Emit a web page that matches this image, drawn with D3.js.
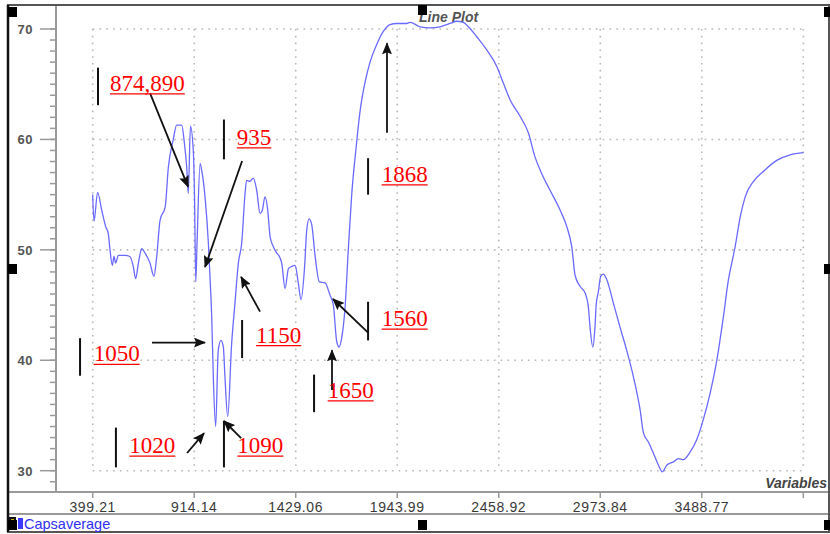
<!DOCTYPE html>
<html>
<head>
<meta charset="utf-8">
<script src="https://cdn.jsdelivr.net/npm/d3@7"></script>
<style>
  html, body { margin: 0; padding: 0; background: #fff; }
  svg { display: block; }
</style>
</head>
<body>
<svg id="chart" width="830" height="534"></svg>
<script>
// ---------- data ----------
const wavenumber = [399,406,424,445,465,478,487,499,507,516,
  529,563,588,605,617,631,648,665,690,710,
  724,741,767,783,808,825,851,864,876,884,
  895,910,916,922,929,944,952,969,986,994,
  1003,1011,1023,1036,1050,1062,1070,1084,1104,1121,
  1138,1155,1172,1180,1197,1214,1231,1248,1260,1273,
  1287,1299,1315,1333,1346,1358,1375,1392,1409,1426,
  1442,1456,1473,1485,1497,1510,1527,1549,1578,1603,
  1620,1637,1649,1662,1679,1696,1713,1735,1755,1781,
  1806,1840,1874,1907,1941,1992,2009,2060,2111,2161,
  2212,2246,2279,2305,2347,2398,2449,2482,2516,2567,
  2609,2643,2677,2719,2770,2804,2829,2846,2871,2897,
  2913,2922,2936,2947,2953,2964,2976,2989,3007,3040,
  3074,3108,3142,3176,3193,3218,3243,3269,3289,3311,
  3345,3370,3395,3430,3463,3496,3531,3565,3598,3624,
  3648,3658,3684,3709,3751,3801,3869,3937,4004];
const capsaverage = [55.0,52.6,55.2,53.6,52.1,51.5,50.0,48.6,49.4,48.8,
  49.5,49.5,49.4,48.5,47.4,48.8,50.1,49.7,48.8,47.6,
  49.4,52.7,53.9,57.5,60.0,61.3,61.3,59.7,57.5,55.1,
  61.2,58.8,54.5,47.1,50.9,57.8,57.2,54.8,50.6,47.6,
  43.9,38.5,34.0,40.9,41.8,41.2,38.5,34.9,41.5,45.2,
  48.8,50.6,55.1,56.3,56.2,56.5,55.4,53.3,53.6,54.8,
  53.6,51.2,50.3,49.7,49.4,48.8,46.5,48.3,48.5,48.6,
  47.0,45.5,48.2,51.8,52.8,52.3,49.5,47.1,47.0,45.9,
  45.0,41.7,41.2,42.0,44.7,50.1,55.0,59.2,62.5,65.2,
  67.0,68.6,69.8,70.4,70.5,70.5,70.6,70.2,70.1,70.2,
  70.5,70.7,70.6,70.2,69.3,68.1,66.6,65.1,63.6,62.1,
  60.6,58.4,56.9,55.4,53.6,52.1,50.3,47.7,46.7,46.1,
  44.9,43.0,41.2,43.0,45.0,46.2,47.6,47.8,47.3,45.2,
  43.0,40.9,38.5,35.5,33.4,32.6,31.6,30.5,29.9,30.5,
  30.8,31.1,31.0,31.7,32.8,34.6,37.0,40.0,43.9,47.3,
  49.4,50.3,53.0,54.8,56.2,57.1,58.1,58.6,58.8];

const xTickValues = [399.21, 914.14, 1429.06, 1943.99, 2458.92, 2973.84, 3488.77, 4003.70];
const xTickLabels = ["399.21", "914.14", "1429.06", "1943.99", "2458.92", "2973.84", "3488.77", ""];
const yTickValues = [30, 40, 50, 60, 70];
const yMinorTicks = d3.range(29, 71, 1);
const seriesName = "Capsaverage";
const chartTitle = "Line Plot";
const xTitle = "Variables";

// annotations (in data units)
const noteLabels    = ["874,890", "935", "1868", "1050", "1150", "1560", "1650", "1020", "1090"];
const noteLabelX    = [487, 1130, 1865, 404, 1228, 1865, 1591, 585, 1133];
const noteLabelY    = [64.4, 59.5, 56.15, 39.9, 41.6, 43.1, 36.6, 31.6, 31.6];
const noteBarX      = [426, 1065, 1796, 335, 1157, 1796, 1522, 517, 1065];
const noteBarTop    = [66.5, 61.8, 58.3, 42.0, 43.65, 45.3, 38.7, 33.9, 34.5];
const noteBarBottom = [63.1, 58.2, 55.0, 38.6, 40.2, 41.8, 35.3, 30.3, 30.3];
const arrowFromX    = [690, 1157, 1892, 700, 1248, 1796, 1613, 878, 1152];
const arrowFromY    = [64.2, 58.05, 60.6, 41.6, 44.4, 42.5, 37.3, 31.6, 32.96];
const arrowToX      = [883, 969, 1892, 969, 1152, 1618, 1613, 964, 1065];
const arrowToY      = [55.7, 48.45, 68.7, 41.6, 47.55, 45.55, 40.9, 33.4, 34.5];

// ---------- layout ----------
const svg = d3.select("#chart");
const frame = { left: 8, top: 5, right: 829, bottom: 532 };
const axisX = 56;       // y-axis line
const axisY = 492;      // x-axis line
const sepY = 514;       // legend separator

const x = d3.scaleLinear().domain([399.21, 4003.70]).range([92.7, 803.3]);
const y = d3.scaleLinear().domain([30, 70]).range([470.7, 29]);

svg.append("rect").attr("width", 830).attr("height", 534).attr("fill", "#fff");

// grid (dotted)
const grid = svg.append("g").attr("stroke", "#b8b8b8").attr("stroke-width", 1.6)
  .attr("stroke-dasharray", "1.6,5.2");
grid.selectAll("line.h").data(yTickValues).join("line")
  .attr("x1", x(xTickValues[0])).attr("x2", x(xTickValues[xTickValues.length - 1]))
  .attr("y1", d => y(d)).attr("y2", d => y(d));
grid.selectAll("line.v").data(xTickValues).join("line")
  .attr("x1", d => x(d)).attr("x2", d => x(d))
  .attr("y1", y(70)).attr("y2", y(30));

// frame lines
svg.append("line").attr("x1", frame.left).attr("x2", frame.right).attr("y1", axisY).attr("y2", axisY)
  .attr("stroke", "#9a9a9a").attr("stroke-width", 2);
svg.append("line").attr("x1", frame.left).attr("x2", frame.right).attr("y1", sepY).attr("y2", sepY)
  .attr("stroke", "#9a9a9a").attr("stroke-width", 2);
svg.append("line").attr("x1", axisX).attr("x2", axisX).attr("y1", frame.top).attr("y2", axisY)
  .attr("stroke", "#9a9a9a").attr("stroke-width", 2);
svg.append("rect").attr("x", frame.left).attr("y", frame.top)
  .attr("width", frame.right - frame.left).attr("height", frame.bottom - frame.top)
  .attr("fill", "none").attr("stroke", "#555").attr("stroke-width", 2);
svg.append("line").attr("x1", frame.left).attr("x2", frame.left).attr("y1", frame.top).attr("y2", frame.bottom)
  .attr("stroke", "#111").attr("stroke-width", 2.5);

// y axis ticks
const yAxisG = svg.append("g");
yAxisG.selectAll("line.minor").data(yMinorTicks).join("line")
  .attr("x1", axisX - 6).attr("x2", axisX).attr("y1", d => y(d)).attr("y2", d => y(d))
  .attr("stroke", "#9a9a9a").attr("stroke-width", 1.5);
yAxisG.selectAll("line.major").data(yTickValues).join("line")
  .attr("x1", axisX - 16).attr("x2", axisX).attr("y1", d => y(d)).attr("y2", d => y(d))
  .attr("stroke", "#9a9a9a").attr("stroke-width", 1.5);
yAxisG.selectAll("text").data(yTickValues).join("text")
  .attr("x", 33).attr("y", d => y(d) + 5)
  .attr("text-anchor", "end")
  .attr("font-family", "Arial, 'Liberation Sans', sans-serif")
  .attr("font-size", 13).attr("font-weight", "bold").attr("letter-spacing", 0.5)
  .attr("fill", "#555").text(d => d);

// x axis ticks
const xAxisG = svg.append("g");
xAxisG.selectAll("line").data(xTickValues).join("line")
  .attr("x1", d => x(d)).attr("x2", d => x(d)).attr("y1", axisY).attr("y2", axisY + 6)
  .attr("stroke", "#9a9a9a").attr("stroke-width", 1.5);
xAxisG.selectAll("text").data(xTickValues).join("text")
  .attr("x", d => x(d)).attr("y", 512)
  .attr("text-anchor", "middle")
  .attr("font-family", "Arial, 'Liberation Sans', sans-serif")
  .attr("font-size", 14).attr("letter-spacing", 0.6)
  .attr("fill", "#3a3a3a").text((d, i) => xTickLabels[i]);

// titles
svg.append("text").attr("x", 419).attr("y", 22)
  .attr("font-family", "Arial, 'Liberation Sans', sans-serif")
  .attr("font-size", 14).attr("font-style", "italic").attr("font-weight", "bold")
  .attr("fill", "#555").text(chartTitle);
svg.append("text").attr("x", 827).attr("y", 488).attr("text-anchor", "end")
  .attr("font-family", "Arial, 'Liberation Sans', sans-serif")
  .attr("font-size", 14).attr("font-style", "italic").attr("font-weight", "bold")
  .attr("fill", "#444").text(xTitle);

// series line
const pts = wavenumber.map((w, i) => [w, capsaverage[i]]);
svg.append("path").datum(pts)
  .attr("fill", "none").attr("stroke", "#5a5aff").attr("stroke-width", 1.3)
  .attr("stroke-opacity", 0.9).attr("stroke-linejoin", "round")
  .attr("d", d3.line().x(d => x(d[0])).y(d => y(d[1])).curve(d3.curveMonotoneX));

// annotations
const defs = svg.append("defs");
defs.append("marker").attr("id", "ah").attr("markerUnits", "userSpaceOnUse")
  .attr("markerWidth", 12).attr("markerHeight", 10).attr("refX", 11).attr("refY", 5)
  .attr("orient", "auto")
  .append("path").attr("d", "M0,0 L12,5 L0,10 L2,5 z").attr("fill", "#111");

const notes = svg.append("g");
noteLabels.forEach((lab, i) => {
  notes.append("line")
    .attr("x1", x(noteBarX[i])).attr("x2", x(noteBarX[i]))
    .attr("y1", y(noteBarTop[i])).attr("y2", y(noteBarBottom[i]))
    .attr("stroke", "#111").attr("stroke-width", 2);
  notes.append("line")
    .attr("x1", x(arrowFromX[i])).attr("y1", y(arrowFromY[i]))
    .attr("x2", x(arrowToX[i])).attr("y2", y(arrowToY[i]))
    .attr("stroke", "#111").attr("stroke-width", 1.8)
    .attr("marker-end", "url(#ah)");
  const t = notes.append("text")
    .attr("x", x(noteLabelX[i])).attr("y", y(noteLabelY[i]))
    .attr("font-family", "'Liberation Serif', 'Times New Roman', serif")
    .attr("font-size", 23).attr("fill", "#ff0000").text(lab);
  const w = t.node().getComputedTextLength();
  notes.append("line")
    .attr("x1", x(noteLabelX[i])).attr("x2", x(noteLabelX[i]) + w)
    .attr("y1", y(noteLabelY[i]) + 3).attr("y2", y(noteLabelY[i]) + 3)
    .attr("stroke", "#ff0000").attr("stroke-width", 1.3);
});

// legend strip
svg.append("rect").attr("x", 8).attr("y", 517).attr("width", 8).attr("height", 13).attr("fill", "#111");
svg.append("rect").attr("x", 11).attr("y", 519).attr("width", 3).attr("height", 9).attr("fill", "#c8b400");
svg.append("rect").attr("x", 18).attr("y", 518).attr("width", 5).attr("height", 11).attr("fill", "#3a3aff");
svg.append("text").attr("x", 24).attr("y", 529)
  .attr("font-family", "Arial, 'Liberation Sans', sans-serif")
  .attr("font-size", 14.5).attr("fill", "#3030f0").text(seriesName);

// selection handles
const handles = [[8, 7], [418, 5], [824, 7], [8, 264], [824, 264], [8, 520], [418, 520], [824, 520]];
svg.append("g").selectAll("rect").data(handles).join("rect")
  .attr("x", d => d[0]).attr("y", d => d[1]).attr("width", 9).attr("height", 10).attr("fill", "#000");
</script>
</body>
</html>
